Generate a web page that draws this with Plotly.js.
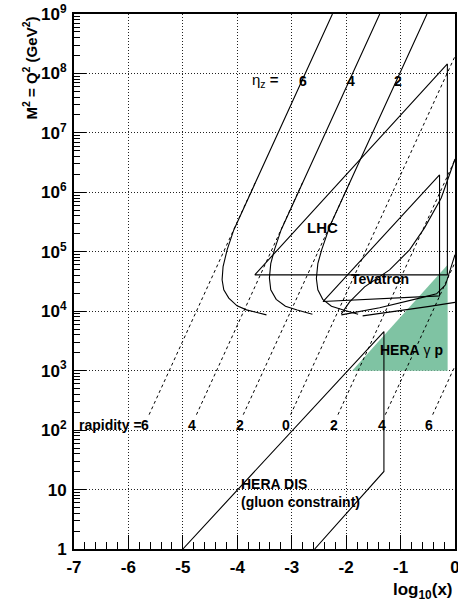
<!DOCTYPE html>
<html>
<head>
<meta charset="utf-8">
<script src="https://cdn.plot.ly/plotly-3.0.1.min.js"></script>
<style>
  html, body { margin: 0; padding: 0; background: #fff; }
  #chart { width: 458px; height: 605px; }
</style>
</head>
<body>
<div id="chart"></div>
<script>
// Kinematic plane: log10(x) against M^2 = Q^2. Vertical values are kept as log10(M^2).

// ---- axis ticks ----
const xTickVals = [-7, -6, -5, -4, -3, -2, -1, 0];
const xTickText = ['-7', '-6', '-5', '-4', '-3', '-2', '-1', '0'];
const yTickExp = [0, 1, 2, 3, 4, 5, 6, 7, 8, 9];
const yTickText = ['1', '10', '10<sup>2</sup>', '10<sup>3</sup>', '10<sup>4</sup>', '10<sup>5</sup>',
                   '10<sup>6</sup>', '10<sup>7</sup>', '10<sup>8</sup>', '10<sup>9</sup>'];

// ---- LHC rapidity lines (dashed) ----
const rapidityText   = ['6', '4', '2', '0', '2', '4', '6'];
const rapidityLowX   = [-5.62, -4.75, -3.89, -3.02, -2.15, -1.28, -0.41];
const rapidityLowY   = [2.26, 2.26, 2.26, 2.26, 2.26, 2.26, 2.26];
const rapidityHighX  = [-3.652, -2.783, -1.915, 0.0, 0.0, 0.0, 0.0];
const rapidityHighY  = [6.2, 6.2, 6.2, 8.29, 6.55, 4.82, 3.08];
const rapidityLabelX = [-5.70, -4.83, -3.95, -3.10, -2.22, -1.35, -0.48];
const rapidityLabelY = 2.08;

// ---- eta_z curves at the LHC (solid) ----
const eta6X = [-2.252, -3.802, -3.881, -4.064, -4.187, -4.261, -4.279, -4.248, -4.156, -4.004, -3.831, -3.464];
const eta6Y = [9.0, 5.9, 5.733, 5.368, 5.032, 4.751, 4.528, 4.360, 4.220, 4.090, 4.023, 3.939];
const eta4X = [-1.383, -2.933, -3.012, -3.195, -3.318, -3.385, -3.410, -3.385, -3.285, -3.115, -2.900, -2.620];
const eta4Y = [9.0, 5.9, 5.733, 5.368, 5.032, 4.800, 4.560, 4.360, 4.200, 4.085, 4.020, 3.950];
const eta2X = [-0.515, -2.065, -2.144, -2.303, -2.450, -2.520, -2.547, -2.520, -2.430, -2.270, -2.050, -1.780];
const eta2Y = [9.0, 5.9, 5.733, 5.424, 5.032, 4.800, 4.550, 4.360, 4.200, 4.085, 4.020, 3.950];
const etaLabelText = ['6', '4', '2'];
const etaLabelX = [-2.793, -1.905, -1.050];
const etaLabelY = 7.878;

// ---- LHC reach ----
const lhcX = [-3.679, -0.14, -0.14, -3.679];
const lhcY = [4.612, 8.159, 4.612, 4.612];

// ---- Tevatron reach and curves ----
const tevX = [-2.426, -0.284, -0.284, -2.426];
const tevY = [4.163, 6.293, 4.258, 4.163];
const tevCurveAX = [-2.088, -1.936, -1.661, -1.202, -0.835, -0.560, -0.253, 0.0];
const tevCurveAY = [3.956, 4.158, 4.410, 4.696, 5.032, 5.402, 5.906, 6.56];
const tevCurveBX = [-2.088, -1.385, -0.651, -0.339, -0.174, -0.083, 0.0];
const tevCurveBY = [3.939, 4.057, 4.220, 4.292, 4.444, 4.696, 4.95];
const tevCurveCX = [-1.697, -1.018, -0.468, 0.0];
const tevCurveCY = [3.922, 4.007, 4.082, 4.149];

// ---- HERA ----
const heraGpX = [-1.89, -0.135, -0.135, -1.89];
const heraGpY = [3.0, 4.78, 3.0, 3.0];
const heraDisX = [-5.0, -1.306, -1.306, -2.578];
const heraDisY = [0.0, 3.658, 1.305, 0.0];

const toM2 = arr => arr.map(v => Math.pow(10, v));
const black = '#000';
const traces = [];

traces.push({
  x: heraGpX, y: toM2(heraGpY), mode: 'lines', fill: 'toself',
  fillcolor: '#7fc3a3', line: { width: 0, color: '#7fc3a3' }, hoverinfo: 'skip'
});

for (let i = 0; i < rapidityText.length; i++) {
  traces.push({
    x: [rapidityLowX[i], rapidityHighX[i]],
    y: toM2([rapidityLowY[i], rapidityHighY[i]]),
    mode: 'lines', line: { color: black, width: 1, dash: '3px,3px' }, hoverinfo: 'skip'
  });
}

const solid = (x, y) => ({ x: x, y: toM2(y), mode: 'lines',
  line: { color: black, width: 1.1 }, hoverinfo: 'skip' });

traces.push(solid(eta6X, eta6Y));
traces.push(solid(eta4X, eta4Y));
traces.push(solid(eta2X, eta2Y));
traces.push(solid(lhcX, lhcY));
traces.push(solid(tevX, tevY));
traces.push(solid(tevCurveAX, tevCurveAY));
traces.push(solid(tevCurveBX, tevCurveBY));
traces.push(solid(tevCurveCX, tevCurveCY));
traces.push(solid(heraDisX, heraDisY));

const txtFont = (size, weight) => ({ family: 'Liberation Sans, Arial, sans-serif', size: size, color: black, weight: weight || 'bold' });

const annotations = [];
annotations.push({ x: -6.945, y: rapidityLabelY, xref: 'x', yref: 'y', text: 'rapidity =',
  showarrow: false, xanchor: 'left', yanchor: 'middle', font: txtFont(14) });
for (let i = 0; i < rapidityText.length; i++) {
  annotations.push({ x: rapidityLabelX[i], y: rapidityLabelY, xref: 'x', yref: 'y', text: rapidityText[i],
    showarrow: false, xanchor: 'center', yanchor: 'middle', font: txtFont(14) });
}
annotations.push({ x: -3.771, y: etaLabelY, xref: 'x', yref: 'y', text: 'η<sub>z</sub> <b>=</b>',
  showarrow: false, xanchor: 'left', yanchor: 'middle', font: txtFont(15, 'normal') });
for (let i = 0; i < etaLabelText.length; i++) {
  annotations.push({ x: etaLabelX[i], y: etaLabelY, xref: 'x', yref: 'y', text: etaLabelText[i],
    showarrow: false, xanchor: 'center', yanchor: 'middle', font: txtFont(14) });
}
annotations.push({ x: -2.431, y: 5.402, xref: 'x', yref: 'y', text: 'LHC',
  showarrow: false, xanchor: 'center', yanchor: 'middle', font: txtFont(15) });
annotations.push({ x: -1.385, y: 4.544, xref: 'x', yref: 'y', text: 'Tevatron',
  showarrow: false, xanchor: 'center', yanchor: 'middle', font: txtFont(14) });
annotations.push({ x: -1.422, y: 3.351, xref: 'x', yref: 'y', text: '<b>HERA</b> γ <b>p</b>',
  showarrow: false, xanchor: 'left', yanchor: 'middle', font: txtFont(14, 'normal') });
annotations.push({ x: -3.972, y: 1.093, xref: 'x', yref: 'y', text: 'HERA DIS',
  showarrow: false, xanchor: 'left', yanchor: 'middle', font: txtFont(14) });
annotations.push({ x: -3.972, y: 0.783, xref: 'x', yref: 'y', text: '(gluon constraint)',
  showarrow: false, xanchor: 'left', yanchor: 'middle', font: txtFont(14) });
// axis titles
annotations.push({ x: 0, y: 1, xref: 'paper', yref: 'paper', xshift: -44, yshift: -1, textangle: -90,
  text: 'M<sup>2</sup> = Q<sup>2</sup> (GeV<sup>2</sup>)', showarrow: false,
  xanchor: 'center', yanchor: 'top', font: txtFont(15) });
annotations.push({ x: 1, y: 0, xref: 'paper', yref: 'paper', yshift: -42,
  text: 'log<sub>10</sub>(x)', showarrow: false, xanchor: 'right', yanchor: 'middle', font: txtFont(17) });

const yMinor = [];
for (let d = 0; d < 9; d++) for (let k = 2; k <= 9; k++) yMinor.push(k * Math.pow(10, d));

const tickFont = { family: 'Liberation Sans, Arial, sans-serif', size: 17, color: black, weight: 'bold' };

const layout = {
  width: 458, height: 605,
  margin: { l: 74, r: 3, t: 14, b: 56, pad: 0 },
  paper_bgcolor: '#fff', plot_bgcolor: '#fff',
  showlegend: false,
  xaxis: {
    range: [-7, 0], tickvals: xTickVals, ticktext: xTickText,
    ticks: 'inside', ticklen: 14, tickwidth: 1, tickcolor: black,
    showline: true, linewidth: 2, linecolor: black, mirror: true,
    showgrid: true, gridcolor: '#222', griddash: '1px,2px', gridwidth: 1, zeroline: false,
    tickfont: tickFont, ticklabelstandoff: 2, ticklabeloverflow: 'allow',
    minor: { ticks: 'inside', ticklen: 7, dtick: 0.2, tickcolor: black, tickwidth: 1, showgrid: false }
  },
  yaxis: {
    type: 'log', range: [0, 9], tickvals: toM2(yTickExp), ticktext: yTickText,
    ticks: 'inside', ticklen: 12, tickwidth: 1, tickcolor: black,
    showline: true, linewidth: 2, linecolor: black, mirror: true,
    showgrid: true, gridcolor: '#222', griddash: '1px,2px', gridwidth: 1, zeroline: false,
    tickfont: tickFont, ticklabelstandoff: 2, ticklabeloverflow: 'allow',
    minor: { ticks: 'inside', ticklen: 6, tickvals: yMinor, tickcolor: black, tickwidth: 1, showgrid: false }
  },
  annotations: annotations
};

Plotly.newPlot('chart', traces, layout, { staticPlot: true, displayModeBar: false });
</script>
</body>
</html>
